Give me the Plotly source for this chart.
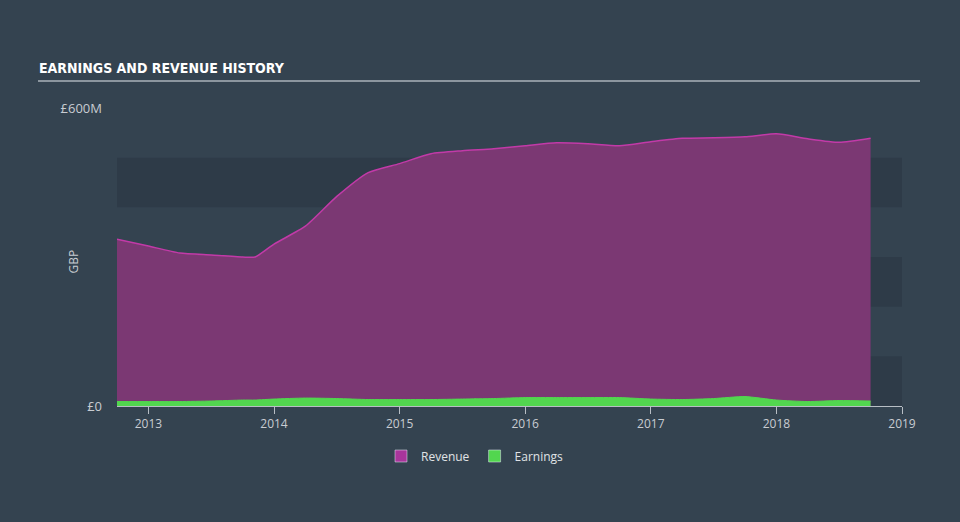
import plotly.graph_objects as go

dates = [2012.75, 2013.0, 2013.25, 2013.5, 2013.75, 2013.85, 2014.0, 2014.25, 2014.5, 2014.75,
         2015.0, 2015.25, 2015.5, 2015.75, 2016.0, 2016.25, 2016.5, 2016.75,
         2017.0, 2017.25, 2017.5, 2017.75, 2018.0, 2018.25, 2018.5, 2018.75]
revenue = [336, 322, 308, 304, 300, 300, 326, 362, 422, 470,
           488, 508, 514, 518, 524, 530, 528, 524,
           532, 539, 540, 542, 548, 538, 531, 539]
earnings = [9, 9, 9, 10, 12, 12, 14, 16, 15, 13,
            13, 13, 14, 15, 17, 17, 17, 17,
            14, 13, 15, 19, 12, 9, 11, 10]

ytick_vals = [0, 600]
ytick_text = ["£0", "£600M"]
xtick_vals = [2013, 2014, 2015, 2016, 2017, 2018, 2019]
xtick_text = [str(v) for v in xtick_vals]
bands = [(0, 100), (200, 300), (400, 500)]

L, R, T, B = 117, 58, 108, 116
W, H = 960, 522
pw, ph = W - L - R, H - T - B


def px_x(px):
    return (px - L) / pw


def px_y(py):
    return (H - B - py) / ph


fig = go.Figure()
fig.add_trace(go.Scatter(
    x=dates, y=revenue, name="Revenue", mode="lines", showlegend=False,
    line=dict(color="#c23aa8", width=1.5, shape="spline", smoothing=0.6),
    fill="tozeroy", fillcolor="#7b3873"))
fig.add_trace(go.Scatter(
    x=dates, y=earnings, name="Earnings", mode="lines", showlegend=False,
    line=dict(color="#52d64f", width=1, shape="spline", smoothing=0.6),
    fill="tozeroy", fillcolor="#52d64f"))
# legend entries (square swatches)
fig.add_trace(go.Bar(x=[None], y=[None], name="Revenue", marker_color="#a8359b"))
fig.add_trace(go.Bar(x=[None], y=[None], name="Earnings", marker_color="#52d64f"))

for lo, hi in bands:
    fig.add_shape(type="rect", xref="x domain", yref="y", x0=0, x1=1, y0=lo, y1=hi,
                  fillcolor="#2e3b48", line=dict(width=0), layer="below")

fig.add_annotation(xref="paper", yref="paper", x=px_x(37), y=px_y(68),
                   xanchor="left", yanchor="middle", showarrow=False,
                   text="<b>EARNINGS AND REVENUE HISTORY</b>",
                   font=dict(family="Liberation Sans Narrow, DejaVu Sans Condensed, Roboto, sans-serif",
                             size=14, color="#ffffff"))
fig.add_shape(type="line", xref="paper", yref="paper", x0=px_x(38), x1=px_x(920),
              y0=px_y(81), y1=px_y(81), line=dict(color="#aab2ba", width=1.5))
fig.add_annotation(xref="paper", yref="paper", x=px_x(62), y=px_y(262),
                   textangle=-90, showarrow=False, text="GBP",
                   font=dict(family="Open Sans, sans-serif", size=12, color="#c8ccd2"))

fig.update_layout(
    width=W, height=H,
    margin=dict(l=L, r=R, t=T, b=B),
    paper_bgcolor="#344350", plot_bgcolor="#344350",
    font=dict(family="Open Sans, sans-serif", color="#c8ccd2", size=12),
    showlegend=True,
    legend=dict(orientation="h", x=px_x(475), xanchor="center", y=px_y(456), yanchor="middle",
                font=dict(size=12, color="#e0e3e6"), bgcolor="rgba(0,0,0,0)"),
    xaxis=dict(range=[2012.75, 2019.0], tickvals=xtick_vals, ticktext=xtick_text,
               showgrid=False, zeroline=False, showline=True, linecolor="#b8bec5",
               linewidth=1, ticks="outside", ticklen=7, tickcolor="#b8bec5",
               tickfont=dict(size=12, color="#c8ccd2")),
    yaxis=dict(range=[0, 600], tickvals=ytick_vals, ticktext=ytick_text,
               showgrid=False, zeroline=False, showline=False, ticks="",
               ticklabelstandoff=14, tickfont=dict(size=13, color="#c8ccd2")),
)

fig.write_html("out.html")
